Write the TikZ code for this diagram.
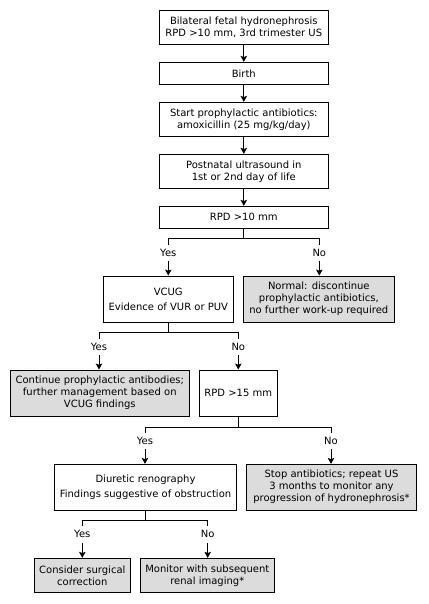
\documentclass[tikz,border=0pt]{standalone}
\usepackage{fontspec}
\setmainfont{DejaVu Sans}
\usepackage{tikz}
\usetikzlibrary{arrows.meta, positioning}
\definecolor{shade}{RGB}{220,220,220}
\tikzset{
    box/.style={rectangle, draw, line width=0.9pt, text centered, align=center, font=\fontsize{10}{12}\selectfont, inner sep=1pt},
    result/.style={box, fill=shade},
    answer/.style={font=\fontsize{10}{12}\selectfont, text height=7pt, text depth=0pt, inner sep=4.5pt},
    link/.style={line width=0.9pt},
    arrow/.style={line width=0.9pt, -{Stealth[length=6pt, width=6.5pt, inset=1.2pt]}}
}
\begin{document}
\begin{tikzpicture}[x=1pt, y=-1pt]
    \useasboundingbox (0,0) rectangle (428,604);
    % Main steps from top to bottom
    \node[box, minimum width=169pt, minimum height=33.7pt] (fetal) at (243.8,27.2) {Bilateral fetal hydronephrosis\\RPD >10 mm, 3rd trimester US};
    \node[box, minimum width=169pt, minimum height=22pt] (birth) at (243.8,73.3) {Birth};
    \node[box, minimum width=169pt, minimum height=34pt] (abx) at (243.8,119.3) {Start prophylactic antibiotics:\\amoxicillin (25 mg/kg/day)};
    \node[box, minimum width=169pt, minimum height=34pt] (us) at (243.8,171.3) {Postnatal ultrasound in\\1st or 2nd day of life};
    \node[box, minimum width=169pt, minimum height=22pt] (rpdten) at (243.8,217.3) {RPD >10 mm};

    % First split
    \node[answer] (yesA) at (168.3,253) {Yes};
    \node[answer] (noA) at (319.3,253) {No};
    \node[box, minimum width=130pt, minimum height=46pt] (vcug) at (168.3,299) {VCUG\\[3pt]Evidence of VUR or PUV};
    \node[result, minimum width=151pt, minimum height=46pt] (normal) at (318.8,299) {Normal: discontinue\\prophylactic antibiotics,\\no further work-up required};

    % Second split
    \node[answer] (yesB) at (99,347) {Yes};
    \node[answer] (noB) at (238.3,347) {No};
    \node[result, minimum width=179pt, minimum height=46pt] (cont) at (99.8,393) {Continue prophylactic antibodies;\\further management based on\\VCUG findings};
    \node[box, minimum width=78pt, minimum height=46pt] (rpdfifteen) at (238.3,393) {RPD >15 mm};

    % Third split
    \node[answer] (yesC) at (145,441) {Yes};
    \node[answer] (noC) at (331,441) {No};
    \node[box, minimum width=182.4pt, minimum height=45.7pt] (diur) at (145.5,487.2) {Diuretic renography\\[3pt]Findings suggestive of obstruction};
    \node[result, minimum width=169.6pt, minimum height=45.7pt] (stop) at (331.5,487.2) {Stop antibiotics; repeat US\\3 months to monitor any\\progression of hydronephrosis*};

    % Fourth split
    \node[answer] (yesD) at (82.3,534.3) {Yes};
    \node[answer] (noD) at (207.7,534.3) {No};
    \node[result, minimum width=95.3pt, minimum height=34pt] (surg) at (82.3,575.3) {Consider surgical\\correction};
    \node[result, minimum width=134pt, minimum height=34pt] (monitor) at (207.3,575.3) {Monitor with subsequent\\renal imaging*};

    % Straight steps
    \draw[arrow] (fetal) -- (birth);
    \draw[arrow] (birth) -- (abx);
    \draw[arrow] (abx) -- (us);
    \draw[arrow] (us) -- (rpdten);

    % Branches
    \draw[link] (rpdten.south) -- ++(0,10) coordinate (splitA);
    \draw[link] (yesA.north) |- (splitA) -| (noA.north);
    \draw[link] (vcug.south) -- ++(0,10.3) coordinate (splitB);
    \draw[link] (yesB.north) |- (splitB) -| (noB.north);
    \draw[link] (rpdfifteen.south) -- ++(0,10.7) coordinate (splitC);
    \draw[link] (yesC.north) |- (splitC) -| (noC.north);
    \draw[link] (diur.south) -- ++(0,10) coordinate (splitD);
    \draw[link] (yesD.north) |- (splitD) -| (noD.north);

    \draw[arrow] (yesA) -- (vcug);
    \draw[arrow] (noA.south) -- (noA.south |- normal.north);
    \draw[arrow] (yesB) -- (cont.north -| yesB);
    \draw[arrow] (noB) -- (rpdfifteen);
    \draw[arrow] (yesC.south) -- (yesC.south |- diur.north);
    \draw[arrow] (noC.south) -- (noC.south |- stop.north);
    \draw[arrow] (yesD) -- (surg);
    \draw[arrow] (noD.south) -- (noD.south |- monitor.north);
\end{tikzpicture}
\end{document}
